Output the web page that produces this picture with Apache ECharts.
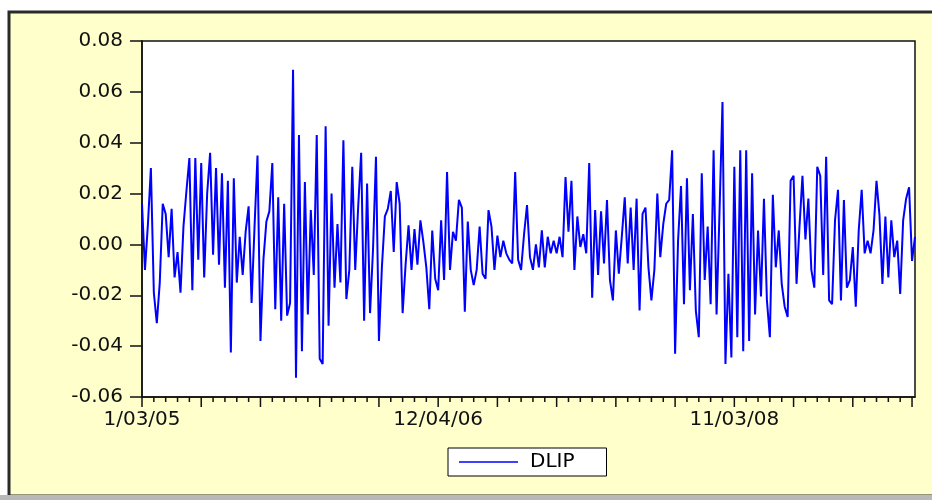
<!DOCTYPE html>
<html>
<head>
<meta charset="utf-8">
<title>DLIP</title>
<script src="https://cdn.jsdelivr.net/npm/echarts@6/dist/echarts.min.js"></script>
<style>
	html, body { margin: 0; padding: 0; background: #fff; }
	#main { width: 932px; height: 500px; }
</style>
</head>
<body>
<div id="main"></div>
<script>
// weekly series, first obs 1/03/05
var startDate = [2005, 0, 3];
var labelIdx = [0, 100, 200];        // 1/03/05, 12/04/06, 11/03/08
var majorStep = 20;                  // long ticks
var minorStep = 4;                   // short ticks
var yMin = -0.06, yMax = 0.08, yStep = 0.02;
var dlip = [
	0.016, -0.010, 0.008, 0.030, -0.019, -0.031, -0.015, 0.016, 0.012, -0.005,
	0.014, -0.013, -0.003, -0.019, 0.007, 0.021, 0.034, -0.018, 0.034, -0.006,
	0.032, -0.013, 0.020, 0.036, -0.004, 0.030, -0.008, 0.028, -0.017, 0.025,
	-0.0425, 0.026, -0.015, 0.003, -0.012, 0.005, 0.015, -0.023, 0.007, 0.035,
	-0.038, -0.006, 0.009, 0.013, 0.032, -0.0255, 0.0185, -0.030, 0.016, -0.028,
	-0.023, 0.0687,
	-0.0524, 0.043, -0.042, 0.0245, -0.0275, 0.0135, -0.012, 0.043, -0.045, -0.047,
	0.0465, -0.032, 0.020, -0.017, 0.008, -0.015, 0.041, -0.0215, -0.010, 0.0305,
	-0.010, 0.015, 0.036, -0.030, 0.024, -0.027, -0.002, 0.0345, -0.038, -0.009,
	0.011, 0.014, 0.021, -0.003, 0.0245, 0.016, -0.027, -0.008, 0.0075, -0.010,
	0.006, -0.008, 0.0095, 0.001, -0.009, -0.0255, 0.0055, -0.0135, -0.018, 0.0095,
	-0.014, 0.0285, -0.010,
	0.005, 0.0015, 0.0175, 0.0145, -0.0265, 0.009, -0.010, -0.016, -0.010, 0.007,
	-0.0115, -0.0135, 0.0135, 0.007, -0.010, 0.0035, -0.005, 0.0015, -0.0035, -0.006,
	-0.0075, 0.0285, -0.006, -0.010, 0.004, 0.0155, -0.005, -0.010, 0.000, -0.009,
	0.0055, -0.009, 0.003, -0.0035, 0.0015, -0.0035, 0.003, -0.005, 0.0265, 0.005,
	0.025, -0.010, 0.011, -0.001, 0.004, -0.0035, 0.032, -0.021, 0.0135, -0.012,
	0.013, -0.0075, 0.0175,
	-0.014, -0.022, 0.0055, -0.0115, 0.003, 0.0185, -0.0075, 0.0145, -0.010, 0.018,
	-0.026, 0.012, 0.0145, -0.009, -0.022, -0.010, 0.020, -0.005, 0.008, 0.016,
	0.0175, 0.037, -0.043, 0.0015, 0.023, -0.0235, 0.026, -0.018, 0.012, -0.026,
	-0.0365, 0.028, -0.014, 0.007, -0.0235, 0.037, -0.0275, 0.013, 0.056, -0.047,
	-0.0115, -0.0445, 0.0305, -0.0365, 0.037, -0.042, 0.037, -0.038, 0.028, -0.0275,
	0.0055, -0.0205, 0.018,
	-0.022, -0.0365, 0.0195, -0.009, 0.0055, -0.0155, -0.0245, -0.0285, 0.025, 0.027,
	-0.0155, 0.007, 0.027, 0.002, 0.018, -0.010, -0.017, 0.0305, 0.027, -0.012,
	0.0345, -0.022, -0.0235, 0.0095, 0.0215, -0.022, 0.0175, -0.017, -0.014, -0.001,
	-0.0245, 0.0055, 0.0215, -0.0035, 0.0015, -0.0035, 0.0055, 0.025, 0.0115, -0.0155,
	0.011, -0.013, 0.0095, -0.005, 0.0015, -0.0195, 0.0095, 0.018, 0.0225, -0.0065,
	0.003
];

// dates M/DD/YY
var xData = function () {
	var data = [];
	var d = new Date(startDate[0], startDate[1], startDate[2]);
	var pad = function (n) { return n < 10 ? '0' + n : '' + n; };
	for (var i = 0; i < dlip.length; i++) {
		data.push((d.getMonth() + 1) + '/' + pad(d.getDate()) + '/' + pad(d.getFullYear() % 100));
		d.setDate(d.getDate() + 7);
	}
	return data;
}();

// tick marks: [category index, y at axis, length]
var tickData = function () {
	var arr = [];
	for (var i = 0; i < dlip.length; i += minorStep) {
		arr.push([i, yMin, i % majorStep === 0 ? 10 : 5]);
	}
	return arr;
}();

var font = 'DejaVu Sans';
var chart = echarts.init(document.getElementById('main'));
var option = {
	backgroundColor: '#fff',
	animation: false,
	graphic: [
		{   // yellow frame
			type: 'rect', z: -10, silent: true,
			shape: { x: 9, y: 12, width: 940, height: 484 },
			style: { fill: '#FFFFCC', stroke: '#2a2a2a', lineWidth: 3 }
		},
		{
			type: 'rect', z: -9, silent: true,
			shape: { x: 0, y: 495, width: 932, height: 5 },
			style: { fill: '#b8b8b8' }
		}
	],
	grid: {
		left: 142, right: 17, top: 41, bottom: 103,
		show: true,
		backgroundColor: '#fff',
		borderColor: '#111',
		borderWidth: 1.5
	},
	legend: {
		left: 448, top: 448,
		padding: [4, 32, 4, 11],
		itemWidth: 59, itemHeight: 1.5,
		backgroundColor: '#fff',
		borderColor: '#000', borderWidth: 1, borderRadius: 0,
		textStyle: { fontFamily: font, fontSize: 20, color: '#000', padding: [0, 0, 0, 7] },
		data: [{ name: 'DLIP', icon: 'rect' }]
	},
	xAxis: {
		type: 'category',
		boundaryGap: false,
		data: xData,
		axisLine: { onZero: false, lineStyle: { color: '#111', width: 1.5 } },
		axisTick: { show: false },
		axisLabel: {
			margin: 13,
			fontFamily: font, fontSize: 20, color: '#111',
			interval: function (index) { return labelIdx.indexOf(index) >= 0; }
		},
		splitLine: { show: false }
	},
	yAxis: {
		type: 'value',
		min: yMin, max: yMax, interval: yStep,
		axisLine: { show: true, lineStyle: { color: '#111', width: 1.5 } },
		axisTick: { show: true, length: 12, lineStyle: { color: '#111', width: 1.5 } },
		axisLabel: {
			margin: 19,
			fontFamily: font, fontSize: 20, color: '#111',
			formatter: function (v) { return (Math.abs(v) < 1e-9 ? 0 : v).toFixed(2); }
		},
		splitLine: { show: false }
	},
	series: [{
		name: 'DLIP',
		type: 'line',
		symbol: 'none',
		lineStyle: { color: '#0000ff', width: 2 },
		itemStyle: { color: '#0000ff' },
		data: dlip
	}, {
		// x ticks: long every 20 obs, short every 4
		name: 'ticks',
		type: 'custom',
		silent: true,
		clip: false,
		renderItem: function (params, api) {
			var p = api.coord([api.value(0), api.value(1)]);
			return {
				type: 'line',
				shape: { x1: p[0], y1: p[1], x2: p[0], y2: p[1] + api.value(2) },
				style: { stroke: '#111', lineWidth: 1.5 }
			};
		},
		data: tickData
	}]
};
chart.setOption(option, true);
</script>
</body>
</html>
